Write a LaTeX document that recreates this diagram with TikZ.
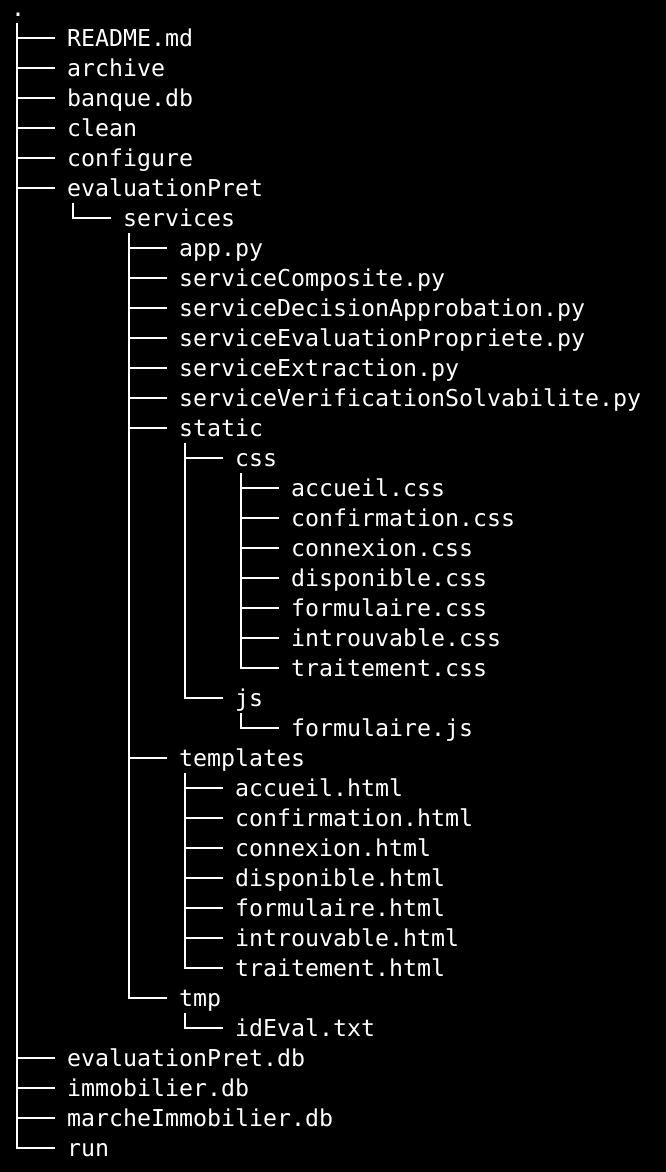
\documentclass[tikz,border=0pt]{standalone}
\usepackage{fontspec}
\setmonofont{DejaVu Sans Mono}
\usetikzlibrary{calc}

\tikzset{
  entry/.style={anchor=west,inner sep=0pt,text height=23.5pt,text depth=6.5pt,
    text=white,font=\ttfamily\fontsize{23.25}{30}\selectfont},
  branch/.style={draw=white,line width=1.8pt}
}

\begin{document}
\begin{tikzpicture}

\useasboundingbox[fill=black] (0,0) rectangle (666pt,-1172pt);

% one row every 30pt, one level every 56pt
\foreach \i/\d/\n/\t in {
  0/0/root/.,
  1/1/readme/README.md,
  2/1/archive/archive,
  3/1/banque/banque.db,
  4/1/clean/clean,
  5/1/configure/configure,
  6/1/evalp/evaluationPret,
  7/2/services/services,
  8/3/app/app.py,
  9/3/scomp/serviceComposite.py,
  10/3/sdec/serviceDecisionApprobation.py,
  11/3/seval/serviceEvaluationPropriete.py,
  12/3/sextr/serviceExtraction.py,
  13/3/sverif/serviceVerificationSolvabilite.py,
  14/3/static/static,
  15/4/css/css,
  16/5/cssaccueil/accueil.css,
  17/5/cssconf/confirmation.css,
  18/5/cssconn/connexion.css,
  19/5/cssdisp/disponible.css,
  20/5/cssform/formulaire.css,
  21/5/cssintr/introuvable.css,
  22/5/csstrait/traitement.css,
  23/4/js/js,
  24/5/jsform/formulaire.js,
  25/3/templates/templates,
  26/4/htaccueil/accueil.html,
  27/4/htconf/confirmation.html,
  28/4/htconn/connexion.html,
  29/4/htdisp/disponible.html,
  30/4/htform/formulaire.html,
  31/4/htintr/introuvable.html,
  32/4/httrait/traitement.html,
  33/3/tmp/tmp,
  34/4/ideval/idEval.txt,
  35/1/evalpdb/evaluationPret.db,
  36/1/immo/immobilier.db,
  37/1/marche/marcheImmobilier.db,
  38/1/run/run}
  \node[entry] (\n) at ({11pt+56pt*\d},{-8pt-30pt*\i}) {\t};

% tree lines
\foreach \p/\c in {
  root/readme, root/archive, root/banque, root/clean, root/configure,
  root/evalp, root/evalpdb, root/immo, root/marche, root/run,
  evalp/services,
  services/app, services/scomp, services/sdec, services/seval,
  services/sextr, services/sverif, services/static, services/templates,
  services/tmp,
  static/css, static/js,
  css/cssaccueil, css/cssconf, css/cssconn, css/cssdisp, css/cssform,
  css/cssintr, css/csstrait,
  js/jsform,
  templates/htaccueil, templates/htconf, templates/htconn, templates/htdisp,
  templates/htform, templates/htintr, templates/httrait,
  tmp/ideval}
  \draw[branch] ([xshift=6pt]\p.south west) |- ([xshift=-12pt]\c.west);

\end{tikzpicture}
\end{document}
